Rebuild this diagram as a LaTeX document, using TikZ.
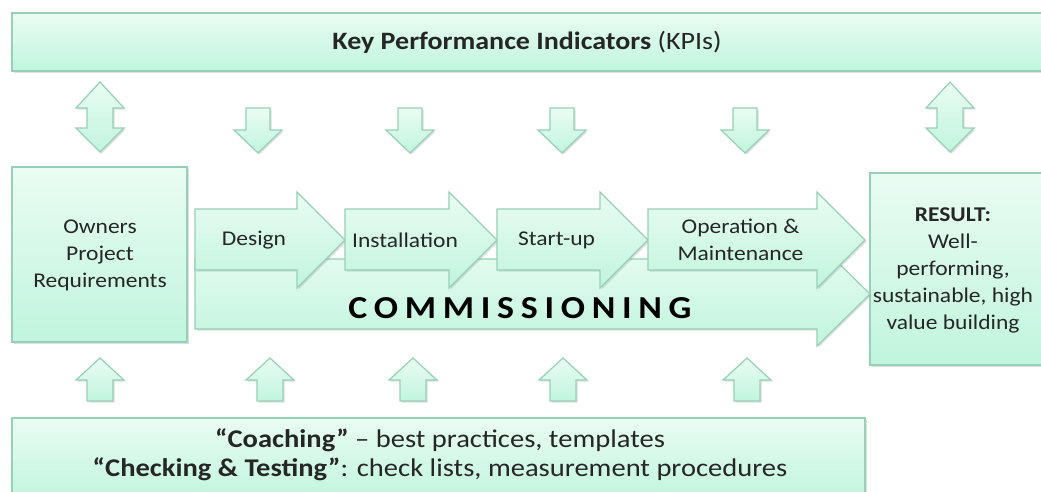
\documentclass[tikz,border=0pt]{standalone}
\usepackage{fontspec}
\setmainfont{Carlito}[FakeStretch=1.12]
\usepackage{tikz}
\usetikzlibrary{shadows}

\definecolor{minttop}{RGB}{234,252,243}
\definecolor{mintbot}{RGB}{192,245,221}
\definecolor{mintline}{RGB}{150,208,182}
\definecolor{inktext}{RGB}{38,38,38}

\tikzset{
  mint/.style={draw=mintline, line width=1.2pt, top color=minttop, bottom color=mintbot,
    drop shadow={shadow xshift=1.5pt, shadow yshift=-1.5pt, opacity=.25}},
  label/.style={text=inktext, align=center, font=\fontsize{21}{27}\selectfont},
  % block arrows of the KPI and support rows
  updown/.pic={\path[mint] (-13,26) -- (-24,26) -- (0,0) -- (24,26) -- (13,26) -- (13,46)
      -- (24,46) -- (0,70) -- (-24,46) -- (-13,46) -- cycle;},
  downarr/.pic={\path[mint] (-12,0) -- (12,0) -- (12,22) -- (24,22) -- (0,45) -- (-24,22)
      -- (-12,22) -- cycle;},
  uparr/.pic={\path[mint] (-13,43) -- (13,43) -- (13,22) -- (24,22) -- (0,0) -- (-24,22)
      -- (-13,22) -- cycle;},
}

\begin{document}
\begin{tikzpicture}[x=1pt,y=-1pt]
\clip (0,0) rectangle (1041,491);

% top and bottom bars
\path[mint] (12,13) rectangle (1060,71);
\node[label, font=\fontsize{25}{30}\selectfont] (kpi) at (527,42) {\textbf{Key Performance Indicators} (KPIs)};
\path[mint] (12,418) rectangle (865,500);
\node[label, font=\fontsize{25.5}{29}\selectfont] (support) at (440,455)
  {\textbf{“Coaching”} – best practices, templates\\ \textbf{“Checking \& Testing”}: check lists, measurement procedures};

% side boxes
\path[mint] (12,167) rectangle (187,342);
\node[label] (opr) at (100,255) {Owners\\ Project\\ Requirements};
\path[mint] (870,173) rectangle (1060,365);
\node[label] (result) at (953,270) {\textbf{RESULT:}\\ Well-\\ performing,\\ sustainable, high\\ value building};

% commissioning arrow under the phases
\path[mint] (195,259) -- (817,259) -- (817,242) -- (870,294) -- (817,346) -- (817,329) -- (195,329) -- cycle;
\node[text=black, font=\fontsize{32}{32}\selectfont\bfseries\addfontfeature{LetterSpace=21}] (cx) at (520,308) {COMMISSIONING};

% phases
\foreach \a/\b/\n/\t in {195/345/design/Design, 345/497/install/Installation, 497/648/startup/Start-up, 648/865/operation/{Operation \&\\ Maintenance}}{
  \path[mint] (\a,209) -- (\b-48,209) -- (\b-48,192) -- (\b,240) -- (\b-48,288) -- (\b-48,270) -- (\a,270) -- cycle;
  \node[label] (\n) at ({(\a+\b-48)/2+8},240) {\t};
}

% arrows to and from the bars
\pic at (100,82) {updown};
\pic at (950,82) {updown};
\foreach \x in {258,410,562,745} \pic at (\x,108) {downarr};
\foreach \x in {100,270,413,563,747} \pic at (\x,358) {uparr};
\end{tikzpicture}
\end{document}
